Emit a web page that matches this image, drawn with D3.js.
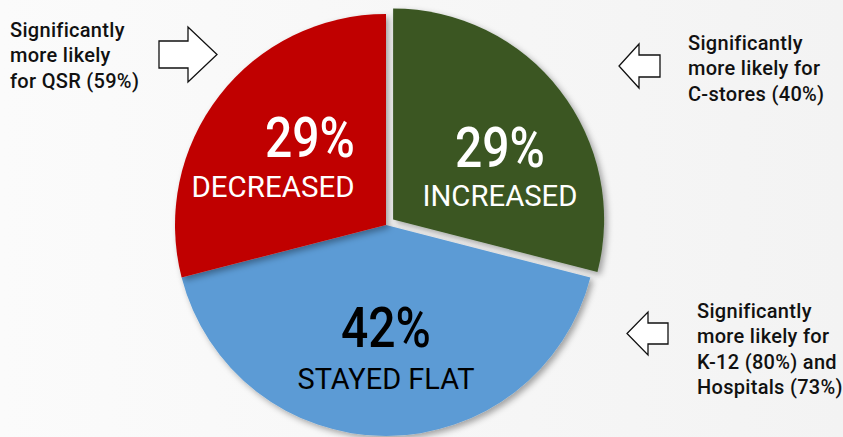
<!DOCTYPE html>
<html><head><meta charset="utf-8">
<script src="https://cdn.jsdelivr.net/npm/d3@7"></script>
<style>
html,body{margin:0;padding:0;background:#f5f5f5;}
svg{display:block;}
</style></head>
<body>
<svg id="chart" width="843" height="437"></svg>
<script>
const categories = ["INCREASED", "STAYED FLAT", "DECREASED"];
const values = [29, 42, 29];
const valueLabels = ["29%", "42%", "29%"];
const colors = ["#3a5724", "#5b9bd5", "#c00000"];
const notes = [
  ["Significantly", "more likely", "for QSR (59%)"],
  ["Significantly", "more likely for", "C-stores (40%)"],
  ["Significantly", "more likely for", "K-12 (80%) and", "Hospitals (73%)"]
];

const svg = d3.select("#chart");
const W = 843, H = 437;
const defs = svg.append("defs");
const bg = defs.append("linearGradient").attr("id","bg").attr("x1","0").attr("x2","1").attr("y1","0").attr("y2","0");
bg.append("stop").attr("offset","0").attr("stop-color","#fbfbfb");
bg.append("stop").attr("offset","1").attr("stop-color","#f3f3f3");
svg.append("rect").attr("width",W).attr("height",H).attr("fill","url(#bg)");

const sh = defs.append("filter").attr("id","shadow").attr("x","-20%").attr("y","-20%").attr("width","140%").attr("height","140%");
sh.append("feDropShadow").attr("dx",3).attr("dy",3).attr("stdDeviation",3).attr("flood-color","#000").attr("flood-opacity",0.35);

const cx = 386, cy = 225, R = 211;
const pie = d3.pie().sort(null).value(d => d)(values);
const arc = d3.arc().innerRadius(0).outerRadius(R);
const g = svg.append("g").attr("transform", `translate(${cx},${cy})`);
const explode = [9, 0, 0];

const slices = g.selectAll("g.slice").data(pie).join("g").attr("class","slice")
  .attr("transform", (d,i) => {
    const a = (d.startAngle + d.endAngle)/2;
    return `translate(${Math.sin(a)*explode[i]},${-Math.cos(a)*explode[i]})`;
  });
slices.append("path").attr("d", arc).attr("fill", (d,i)=>colors[i]).attr("filter","url(#shadow)");

// labels: [pctX, pctY, catX, catY]
const labelPos = [[500,150,500,195],[386,330,386,378],[310,140,273,186]];
const pctColor = ["#fff","#000","#fff"];
const catColor = ["#fff","#000","#fff"];
pie.forEach((d,i)=>{
  const [x1,y1,x2,y2] = labelPos[i];
  g.append("text").attr("x", x1-cx).attr("y", y1-cy + 17)
    .attr("text-anchor","middle").attr("font-family","Roboto, 'Noto Sans', sans-serif")
    .attr("font-size",55).attr("font-weight",500).attr("fill",pctColor[i]).attr("textLength",90).attr("lengthAdjust","spacingAndGlyphs")
    .text(valueLabels[i]);
  g.append("text").attr("x", x2-cx).attr("y", y2-cy + 11)
    .attr("text-anchor","middle").attr("font-family","Roboto, 'Noto Sans', sans-serif")
    .attr("font-size",30).attr("fill",catColor[i])
    .attr("textLength", [155,177,163][i]).attr("lengthAdjust","spacingAndGlyphs")
    .text(categories[i]);
});

// notes
const notePos = [[10,37],[688,50],[697,318]];
notes.forEach((lines,k)=>{
  const t = svg.append("text").attr("font-family","Roboto, 'Noto Sans', sans-serif")
    .attr("font-size",20).attr("font-weight",500).attr("letter-spacing",0.3).attr("fill","#111");
  lines.forEach((ln,j)=>{
    t.append("tspan").attr("x",notePos[k][0]).attr("y",notePos[k][1]+j*25.3).text(ln);
  });
});

// arrows
function arrowPath(x0,bodyTop,bodyBot,headX,headTop,headBot,tipX){
  const ym=(headTop+headBot)/2;
  return `M${x0},${bodyTop}L${headX},${bodyTop}L${headX},${headTop}L${tipX},${ym}L${headX},${headBot}L${headX},${bodyBot}L${x0},${bodyBot}Z`;
}
const arrows = [
  arrowPath(159,41,68,188,27,82,217),
  arrowPath(660,55,77,639,44,88,619),
  arrowPath(668,323,344,648,312,355,627)
];
svg.selectAll("path.arrow").data(arrows).join("path").attr("class","arrow")
  .attr("d",d=>d).attr("fill","#fff").attr("stroke","#111").attr("stroke-width",1.3);
</script>
</body></html>
